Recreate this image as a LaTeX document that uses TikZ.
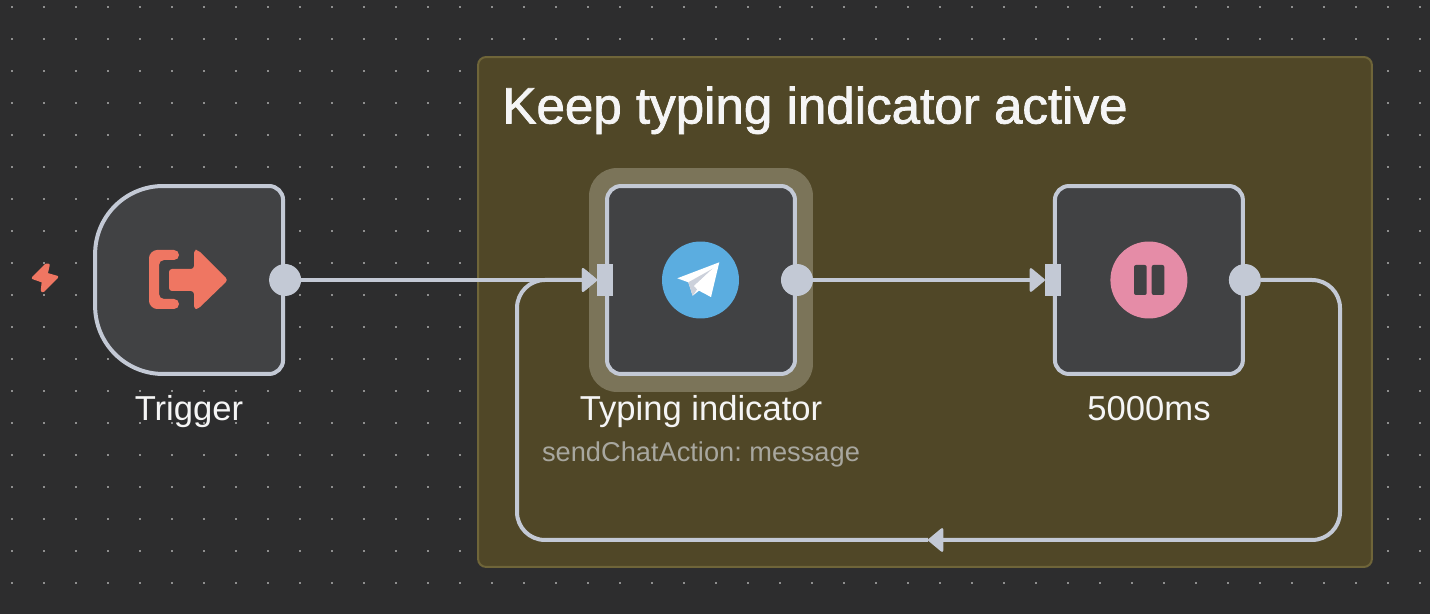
\documentclass[tikz,border=0pt]{standalone}
\usepackage{fontspec}
\setmainfont{Liberation Sans}
\newfontfamily\headfont[FakeBold=1.5]{Liberation Sans}
\usetikzlibrary{positioning,arrows.meta}
\definecolor{canvasbg}{HTML}{2D2D2E}
\definecolor{griddot}{HTML}{8E8E8E}
\definecolor{groupbg}{HTML}{504727}
\definecolor{groupline}{HTML}{6F6539}
\definecolor{halobg}{HTML}{7B7459}
\definecolor{cardbg}{HTML}{414244}
\definecolor{wire}{HTML}{C3C9D5}
\definecolor{coral}{HTML}{EF7662}
\definecolor{skyblue}{HTML}{5BADE0}
\definecolor{rosepink}{HTML}{E58CA7}
\definecolor{lighttext}{HTML}{F5F5F5}
\definecolor{subtext}{HTML}{A8A79F}
\begin{document}
\begin{tikzpicture}[x=0.02cm,y=-0.02cm,node distance=8.96cm,>={Triangle[length=.32cm,width=.52cm,line width=.05cm,round,fill=wire]}]
    \tikzstyle{card}=[rectangle, draw=wire, fill=cardbg, line width=.08cm, rounded corners=.28cm, minimum size=3.76cm, inner sep=0, outer sep=0]
    \tikzstyle{outport}=[circle, fill=wire, minimum size=.64cm, inner sep=0, outer sep=0, xshift=.04cm]
    \tikzstyle{inport}=[rectangle, fill=wire, minimum width=.32cm, minimum height=.64cm, inner sep=0, outer sep=0, xshift=-.04cm]
    \tikzstyle{link}=[draw=wire, line width=.08cm]
    \tikzstyle{caption}=[text=lighttext, font=\fontsize{19.7}{24}\selectfont, inner sep=0, anchor=base]
    \fill[canvasbg] (0,0) rectangle (1430,614);
    \useasboundingbox (0,0) rectangle (1430,614);
    \foreach \i in {0,...,44}
      \foreach \j in {0,...,18}
        \fill[griddot] (11+32*\i,6+32*\j) rectangle (13+32*\i,8+32*\j);
    % group
    \node[rectangle, draw=groupline, fill=groupbg, line width=.04cm, rounded corners=.16cm, minimum width=17.88cm, minimum height=10.2cm, inner sep=0, outer sep=0] (group) at (925,312) {};
    \node[text=lighttext, font=\headfont\fontsize{29.1}{34}\selectfont, inner sep=0, anchor=base] (title) at (815,123.5) {Keep typing indicator active};
    % nodes
    \node[rectangle, fill=halobg, rounded corners=.56cm, minimum size=4.48cm, inner sep=0] (halo) at (701,280) {};
    \node[card] (typing) at (701,280) {};
    \node[card, right of=typing] (wait) {};
    \node[card, draw=none, fill=none, left of=typing, node distance=10.24cm] (trigger) {};
    \filldraw[draw=wire, fill=cardbg, line width=.08cm, rounded corners=.28cm] (trigger.north) -- (trigger.north east) -- (trigger.south east) -- (trigger.south) [sharp corners] -- ++(-26,0) arc[start angle=270, end angle=180, radius=1.36cm] -- ++(0,-52) arc[start angle=180, end angle=90, radius=1.36cm] -- cycle;
    % ports
    \node[outport] (triggerout) at (trigger.east) {};
    \node[inport] (typingin) at (typing.west) {};
    \node[outport] (typingout) at (typing.east) {};
    \node[inport] (waitin) at (wait.west) {};
    \node[outport] (waitout) at (wait.east) {};
    % labels
    \node[caption] (triggerlabel) at (189,420.5) {Trigger};
    \node[caption] (typinglabel) at (701,420.5) {Typing indicator};
    \node[caption] (waitlabel) at (1149,420.5) {5000ms};
    \node[text=subtext, font=\frenchspacing\fontsize{15.5}{19}\selectfont, inner sep=0, anchor=base] (typingsub) at (701,462) {sendChatAction: message};
    % icons
    \filldraw[coral, line width=.05cm, line join=round] (46,265) -- (48.5,265) -- (46.5,274) -- (57,277) -- (43,291) -- (42,290.5) -- (43,281.5) -- (33,278) -- cycle;
    \fill[coral, rounded corners=.1cm] (179,250) -- (162,250) .. controls (153,250) and (149,254) .. (149,263) -- (149,296) .. controls (149,305) and (153,309) .. (162,309) -- (179,309) -- (179,299) -- (159,299) -- (159,260) -- (179,260) -- cycle;
    \fill[coral, rounded corners=.06cm] (169,269) -- (194,269) -- (194,250) -- (198,250) -- (228,280) -- (198,309) -- (194,309) -- (194,291) -- (169,291) -- cycle;
    \node[circle, fill=skyblue, minimum size=1.54cm, inner sep=0] (telegramicon) at (700.5,280) {};
    \fill[white] (719.3,262.3) -- (677.3,278.3) -- (688.3,282.3) -- (692.7,295.7) -- (699,290.7) -- (711,297) -- cycle;
    \fill[wire!85!white] (688.3,282.3) -- (692.7,295.7) -- (697,289.5) -- (694,286) -- (713,268.5) -- cycle;
    \fill[white] (694,286) -- (713,268.5) -- (711,297) -- cycle;
    \node[circle, fill=rosepink, minimum size=1.54cm, inner sep=0] (pauseicon) at (wait) {};
    \fill[cardbg, rounded corners=.04cm] (1134,265) rectangle (1146.7,295);
    \fill[cardbg, rounded corners=.04cm] (1151.7,265) rectangle (1164.3,295);
    % connectors
    \coordinate (loopne) at (1340,280);
    \coordinate (loopse) at (1340,540);
    \coordinate (loopmid) at (928,540);
    \coordinate (loopsw) at (517,540);
    \coordinate (loopnw) at (517,280);
    \draw[link,->] (triggerout) -- (typingin);
    \draw[link,->] (typingout) -- (waitin);
    \draw[link,->] (waitout.east) [rounded corners=.56cm] -- (loopne) -- (loopse) -- (loopmid) [sharp corners];
    \draw[link,->] (loopmid) [rounded corners=.56cm] -- (loopsw) -- (loopnw) -- (typingin.west) [sharp corners];
  \end{tikzpicture}
\end{document}
